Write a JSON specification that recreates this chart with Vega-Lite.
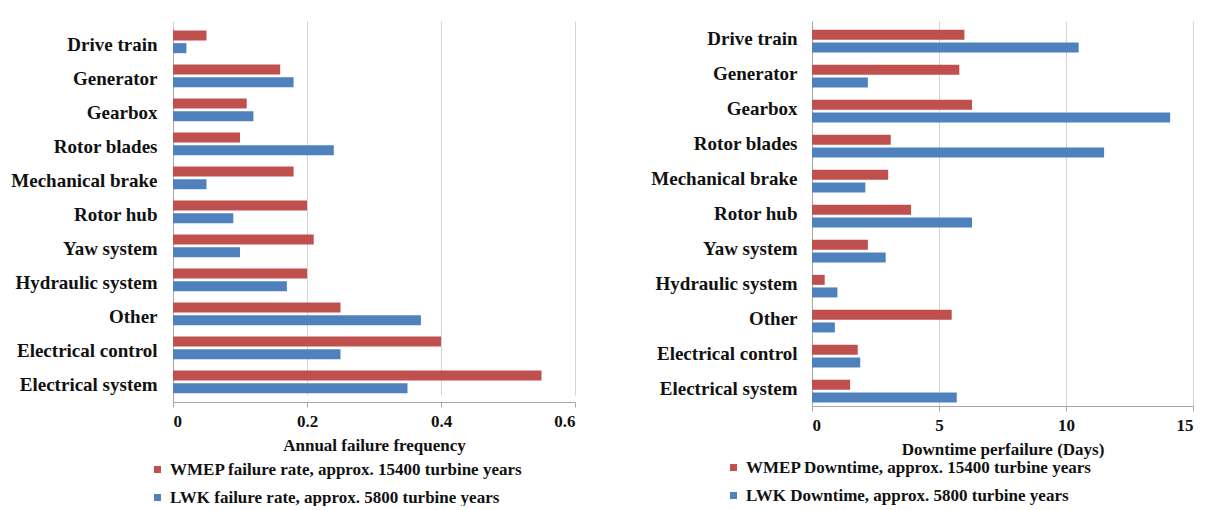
{
  "$schema": "https://vega.github.io/schema/vega-lite/v6.json",
  "background": "white",
  "padding": {"left": 10, "top": 21, "right": 5, "bottom": 0},
  "config": {
    "view": {"stroke": null},
    "font": "Liberation Serif",
    "axis": {"labelFont": "Liberation Serif", "labelFontWeight": "bold", "labelFontSize": 17, "labelColor": "#111", "titleFont": "Liberation Serif", "titleFontWeight": "bold", "titleFontSize": 17, "titleColor": "#111", "domainColor": "#a6a6a6", "tickColor": "#a6a6a6", "gridColor": "#d4d4d4"},
    "axisY": {"labelFontSize": 19},
    "legend": {"labelFont": "Liberation Serif", "labelFontWeight": "bold", "labelFontSize": 17, "labelColor": "#111", "labelLimit": 600, "symbolType": "square", "symbolSize": 49, "symbolStrokeWidth": 0, "rowPadding": 10, "direction": "vertical", "orient": "none", "padding": 0}
  },
  "datasets": {
    "freq": [
      {"component": "Drive train", "series": "WMEP failure rate, approx. 15400 turbine years", "value": 0.05},
      {"component": "Drive train", "series": "LWK failure rate, approx. 5800 turbine years", "value": 0.02},
      {"component": "Generator", "series": "WMEP failure rate, approx. 15400 turbine years", "value": 0.16},
      {"component": "Generator", "series": "LWK failure rate, approx. 5800 turbine years", "value": 0.18},
      {"component": "Gearbox", "series": "WMEP failure rate, approx. 15400 turbine years", "value": 0.11},
      {"component": "Gearbox", "series": "LWK failure rate, approx. 5800 turbine years", "value": 0.12},
      {"component": "Rotor blades", "series": "WMEP failure rate, approx. 15400 turbine years", "value": 0.10},
      {"component": "Rotor blades", "series": "LWK failure rate, approx. 5800 turbine years", "value": 0.24},
      {"component": "Mechanical brake", "series": "WMEP failure rate, approx. 15400 turbine years", "value": 0.18},
      {"component": "Mechanical brake", "series": "LWK failure rate, approx. 5800 turbine years", "value": 0.05},
      {"component": "Rotor hub", "series": "WMEP failure rate, approx. 15400 turbine years", "value": 0.20},
      {"component": "Rotor hub", "series": "LWK failure rate, approx. 5800 turbine years", "value": 0.09},
      {"component": "Yaw system", "series": "WMEP failure rate, approx. 15400 turbine years", "value": 0.21},
      {"component": "Yaw system", "series": "LWK failure rate, approx. 5800 turbine years", "value": 0.10},
      {"component": "Hydraulic system", "series": "WMEP failure rate, approx. 15400 turbine years", "value": 0.20},
      {"component": "Hydraulic system", "series": "LWK failure rate, approx. 5800 turbine years", "value": 0.17},
      {"component": "Other", "series": "WMEP failure rate, approx. 15400 turbine years", "value": 0.25},
      {"component": "Other", "series": "LWK failure rate, approx. 5800 turbine years", "value": 0.37},
      {"component": "Electrical control", "series": "WMEP failure rate, approx. 15400 turbine years", "value": 0.40},
      {"component": "Electrical control", "series": "LWK failure rate, approx. 5800 turbine years", "value": 0.25},
      {"component": "Electrical system", "series": "WMEP failure rate, approx. 15400 turbine years", "value": 0.55},
      {"component": "Electrical system", "series": "LWK failure rate, approx. 5800 turbine years", "value": 0.35}
    ],
    "down": [
      {"component": "Drive train", "series": "WMEP Downtime, approx. 15400 turbine years", "value": 6.0},
      {"component": "Drive train", "series": "LWK Downtime, approx. 5800 turbine years", "value": 10.5},
      {"component": "Generator", "series": "WMEP Downtime, approx. 15400 turbine years", "value": 5.8},
      {"component": "Generator", "series": "LWK Downtime, approx. 5800 turbine years", "value": 2.2},
      {"component": "Gearbox", "series": "WMEP Downtime, approx. 15400 turbine years", "value": 6.3},
      {"component": "Gearbox", "series": "LWK Downtime, approx. 5800 turbine years", "value": 14.1},
      {"component": "Rotor blades", "series": "WMEP Downtime, approx. 15400 turbine years", "value": 3.1},
      {"component": "Rotor blades", "series": "LWK Downtime, approx. 5800 turbine years", "value": 11.5},
      {"component": "Mechanical brake", "series": "WMEP Downtime, approx. 15400 turbine years", "value": 3.0},
      {"component": "Mechanical brake", "series": "LWK Downtime, approx. 5800 turbine years", "value": 2.1},
      {"component": "Rotor hub", "series": "WMEP Downtime, approx. 15400 turbine years", "value": 3.9},
      {"component": "Rotor hub", "series": "LWK Downtime, approx. 5800 turbine years", "value": 6.3},
      {"component": "Yaw system", "series": "WMEP Downtime, approx. 15400 turbine years", "value": 2.2},
      {"component": "Yaw system", "series": "LWK Downtime, approx. 5800 turbine years", "value": 2.9},
      {"component": "Hydraulic system", "series": "WMEP Downtime, approx. 15400 turbine years", "value": 0.5},
      {"component": "Hydraulic system", "series": "LWK Downtime, approx. 5800 turbine years", "value": 1.0},
      {"component": "Other", "series": "WMEP Downtime, approx. 15400 turbine years", "value": 5.5},
      {"component": "Other", "series": "LWK Downtime, approx. 5800 turbine years", "value": 0.9},
      {"component": "Electrical control", "series": "WMEP Downtime, approx. 15400 turbine years", "value": 1.8},
      {"component": "Electrical control", "series": "LWK Downtime, approx. 5800 turbine years", "value": 1.9},
      {"component": "Electrical system", "series": "WMEP Downtime, approx. 15400 turbine years", "value": 1.5},
      {"component": "Electrical system", "series": "LWK Downtime, approx. 5800 turbine years", "value": 5.7}
    ]
  },
  "resolve": {"scale": {"color": "independent"}, "legend": {"color": "independent"}},
  "spacing": 74,
  "hconcat": [
    {
      "width": 402,
      "height": 381,
      "data": {"name": "freq"},
      "mark": {"type": "bar", "height": 10},
      "encoding": {
        "y": {"field": "component", "type": "nominal", "sort": null, "title": null,
              "scale": {"range": [7, 381], "paddingInner": 0, "paddingOuter": 0},
              "axis": {"ticks": false, "labelPadding": 16}},
        "yOffset": {"field": "series", "type": "nominal", "scale": {"paddingInner": 0, "paddingOuter": 0.7}, "sort": ["WMEP failure rate, approx. 15400 turbine years", "LWK failure rate, approx. 5800 turbine years"]},
        "x": {"field": "value", "type": "quantitative", "title": "Annual failure frequency",
              "scale": {"domain": [0, 0.6]},
              "axis": {"values": [0, 0.2, 0.4, 0.6], "format": ".1~f", "labelExpr": "datum.value == 0 ? '0' : datum.label", "labelPadding": 6, "tickSize": 5, "titlePadding": 8}},
        "color": {"field": "series", "type": "nominal",
                  "scale": {"domain": ["WMEP failure rate, approx. 15400 turbine years", "LWK failure rate, approx. 5800 turbine years"], "range": ["#C0504D", "#4F81BD"]},
                  "legend": {"title": null, "legendX": -24, "legendY": 440}}
      }
    },
    {
      "width": 381,
      "height": 385,
      "data": {"name": "down"},
      "mark": {"type": "bar", "height": 10},
      "encoding": {
        "y": {"field": "component", "type": "nominal", "sort": null, "title": null,
              "scale": {"paddingInner": 0, "paddingOuter": 0},
              "axis": {"ticks": false, "labelPadding": 15}},
        "yOffset": {"field": "series", "type": "nominal", "scale": {"paddingInner": 0, "paddingOuter": 0.72}, "sort": ["WMEP Downtime, approx. 15400 turbine years", "LWK Downtime, approx. 5800 turbine years"]},
        "x": {"field": "value", "type": "quantitative", "title": "Downtime perfailure (Days)",
              "scale": {"domain": [0, 15]},
              "axis": {"values": [0, 5, 10, 15], "labelPadding": 6, "tickSize": 5, "titlePadding": 8}},
        "color": {"field": "series", "type": "nominal",
                  "scale": {"domain": ["WMEP Downtime, approx. 15400 turbine years", "LWK Downtime, approx. 5800 turbine years"], "range": ["#C0504D", "#4F81BD"]},
                  "legend": {"title": null, "legendX": -87, "legendY": 438}}
      }
    }
  ]
}
